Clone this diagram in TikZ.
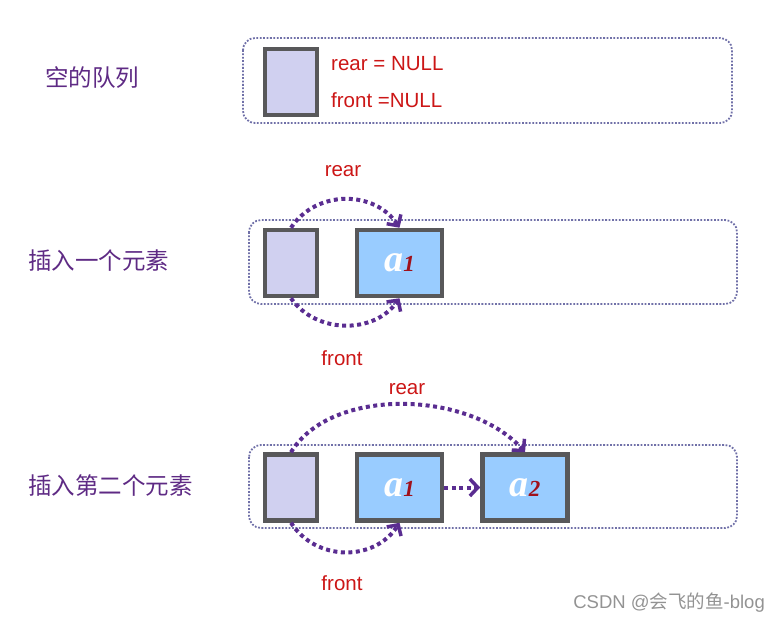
\documentclass[tikz,border=0pt]{standalone}
\usepackage{fontspec}
\setmainfont{Liberation Sans}
\newfontfamily\cjk{Noto Sans CJK SC}
\newfontfamily\serifit{Liberation Serif}
\usepackage{tikz}
\usetikzlibrary{arrows.meta,positioning}

\definecolor{lav}{HTML}{D0D0F0}
\definecolor{sky}{HTML}{99CCFF}
\definecolor{boxc}{HTML}{58585A}
\definecolor{panelc}{HTML}{7070A8}
\definecolor{arrc}{HTML}{5A2D91}
\definecolor{txtred}{HTML}{CC1616}
\definecolor{subred}{HTML}{A0101A}
\definecolor{lblc}{HTML}{5E2A84}

\newcommand{\elem}[1]{{\serifit\bfseries\itshape\fontsize{38}{38}\selectfont
  \textcolor{white}{a}\textcolor{subred}{\fontsize{23}{23}\selectfont #1}}}

\begin{document}
\begin{tikzpicture}[x=1pt,y=-1pt,
  panel/.style={draw=panelc,line width=1.8pt,dash pattern=on 1.8pt off 1.6pt,rounded corners=12pt},
  headbox/.style={draw=boxc,line width=4.5pt,fill=lav,minimum width=52pt,minimum height=66pt,inner sep=0pt},
  elembox/.style={draw=boxc,line width=4.5pt,fill=sky,minimum width=85pt,minimum height=66pt,inner sep=0pt},
  ptr/.style={draw=arrc,line width=4pt,dash pattern=on 4pt off 3.5pt,
    -{Straight Barb[length=8pt,width=17pt,line width=3.5pt]}},
  redtxt/.style={text=txtred,font=\fontsize{20.5}{22}\selectfont,inner sep=0pt},
  steplbl/.style={text=lblc,font=\cjk\fontsize{23.5}{25}\selectfont,anchor=west,inner sep=0pt}]

\useasboundingbox (0,0) rectangle (780,623);

% empty queue
\node[steplbl] (L1) at (45,78) {空的队列};
\draw[panel] (243,38) rectangle (732,123);
\node[headbox] (H1) at (291,82) {};
\node[redtxt,anchor=west] (rearnull) at (331,64) {rear = NULL};
\node[redtxt,anchor=west] (frontnull) at (331,100) {front =NULL};

% one element
\node[steplbl] (L2) at (28,261) {插入一个元素};
\draw[panel] (249,220) rectangle (737,304);
\node[headbox] (H2) at (291,263) {};
\node[elembox] (NA1) at (399.5,263) {\elem{1}};
\node[redtxt] (Nrear) at (343,171) {rear};
\node[redtxt] (Nfront) at (342,358) {front};

\draw[ptr] (H2.north) .. controls +(25,-38) and +(-25,-38) .. (NA1.north);
\draw[ptr] (H2.south) .. controls +(25,36) and +(-25,36) .. (NA1.south);

% two elements
\node[steplbl] (L3) at (28,486) {插入第二个元素};
\draw[panel] (249,445) rectangle (737,528);
\node[headbox] (H3) at (291,487.5) {};
\node[elembox] (SA1) at (399.5,487.5) {\elem{1}};
\node[elembox] (SA2) at (525,487.5) {\elem{2}};
\node[redtxt] (Srear) at (407,389) {rear};
\node[redtxt] (Sfront) at (342,583) {front};

\draw[ptr] (SA1.east) -- (SA2.west);
\draw[ptr] (H3.north) .. controls +(40,-66) and +(-55,-62) .. (SA2.north);
\draw[ptr] (H3.south) .. controls +(25,39) and +(-25,39) .. (SA1.south);

\node[text=gray!85,font=\fontsize{18.5}{20}\selectfont,anchor=east,inner sep=0pt] (mark) at (765,603)
  {CSDN @{\cjk 会飞的鱼}-blog};

\end{tikzpicture}
\end{document}
